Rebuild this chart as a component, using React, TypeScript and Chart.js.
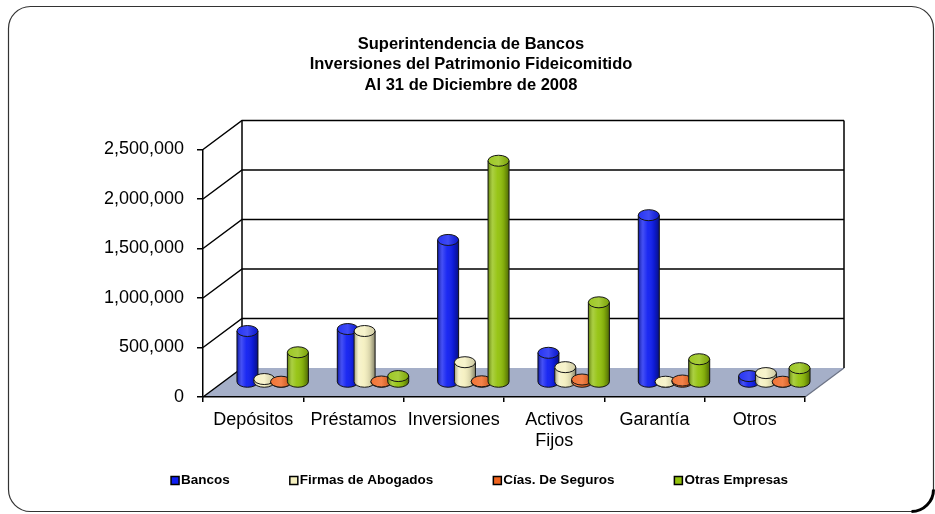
import React, { useEffect, useRef } from 'react';
import { Chart, registerables } from 'chart.js';

Chart.register(...registerables);

const FONT = '"Liberation Sans", Arial, Helvetica, sans-serif';

const titleLines = [
  'Superintendencia de Bancos',
  'Inversiones del Patrimonio Fideicomitido',
  'Al 31 de Diciembre de 2008',
];
const categories: (string | string[])[] = ['Depósitos', 'Préstamos', 'Inversiones', ['Activos', 'Fijos'], 'Garantía', 'Otros'];
const seriesNames = ['Bancos', 'Firmas de Abogados', 'Cías. De Seguros', 'Otras Empresas'];
const bancos = [520000, 540000, 1440000, 300000, 1690000, 65000];
const firmas = [35000, 520000, 205000, 155000, 8000, 95000];
const cias = [8000, 10000, 12000, 30000, 20000, 8000];
const otras = [305000, 65000, 2240000, 810000, 235000, 145000];
const seriesColors = ['#0f1ef2', '#f5f0c0', '#f0641e', '#93c20c'];
const yTickValues = [0, 500000, 1000000, 1500000, 2000000, 2500000];
const yMax = 2500000;
const yStep = 500000;

const DX = 39;
const DY = -29;
const CAP_RY = 5.5;

function roundRectPath(ctx: CanvasRenderingContext2D, x: number, y: number, w: number, h: number, r: number) {
  ctx.beginPath();
  ctx.moveTo(x + r, y);
  ctx.lineTo(x + w - r, y);
  ctx.arcTo(x + w, y, x + w, y + r, r);
  ctx.lineTo(x + w, y + h - r);
  ctx.arcTo(x + w, y + h, x + w - r, y + h, r);
  ctx.lineTo(x + r, y + h);
  ctx.arcTo(x, y + h, x, y + h - r, r);
  ctx.lineTo(x, y + r);
  ctx.arcTo(x, y, x + r, y, r);
  ctx.closePath();
}

function drawCaps(ctx: CanvasRenderingContext2D, meta: any, color: string) {
  meta.data.forEach((el: any) => {
    const p = el.getProps(['x', 'y', 'base', 'width'], true);
    const rx = p.width / 2;
    const left = p.x - rx;
    const right = p.x + rx;
    const top = Math.min(p.y, p.base);
    const bot = Math.max(p.y, p.base);
    ctx.save();
    ctx.beginPath();
    ctx.moveTo(left, top);
    ctx.lineTo(left, bot);
    ctx.ellipse(p.x, bot, rx, CAP_RY, 0, Math.PI, 0, true);
    ctx.lineTo(right, top);
    ctx.closePath();
    ctx.fillStyle = color;
    ctx.fill();
    const g = ctx.createLinearGradient(left, 0, right, 0);
    g.addColorStop(0, 'rgba(0,0,0,0.35)');
    g.addColorStop(0.22, 'rgba(255,255,255,0.22)');
    g.addColorStop(0.45, 'rgba(255,255,255,0.05)');
    g.addColorStop(0.75, 'rgba(0,0,0,0.12)');
    g.addColorStop(1, 'rgba(0,0,0,0.45)');
    ctx.fillStyle = g;
    ctx.fill();
    ctx.beginPath();
    ctx.moveTo(left, top);
    ctx.lineTo(left, bot);
    ctx.ellipse(p.x, bot, rx, CAP_RY, 0, Math.PI, 0, true);
    ctx.lineTo(right, top);
    ctx.strokeStyle = '#151515';
    ctx.lineWidth = 1;
    ctx.stroke();
    ctx.beginPath();
    ctx.ellipse(p.x, top, rx, CAP_RY, 0, 0, Math.PI * 2);
    ctx.fillStyle = color;
    ctx.fill();
    const g2 = ctx.createLinearGradient(left, 0, right, 0);
    g2.addColorStop(0, 'rgba(255,255,255,0.1)');
    g2.addColorStop(0.5, 'rgba(255,255,255,0.2)');
    g2.addColorStop(1, 'rgba(0,0,0,0.15)');
    ctx.fillStyle = g2;
    ctx.fill();
    ctx.strokeStyle = '#151515';
    ctx.stroke();
    ctx.restore();
  });
}

const frame3d = {
  id: 'frame3d',
  beforeDraw(chart: any) {
    const { ctx, chartArea: a, scales } = chart;
    const ys = scales.y;
    ctx.save();
    ctx.fillStyle = '#ffffff';
    ctx.fillRect(0, 0, chart.width, chart.height);
    roundRectPath(ctx, 8.5, 6.5, 925, 505, 22);
    ctx.strokeStyle = '#333';
    ctx.lineWidth = 1.2;
    ctx.stroke();
    ctx.beginPath();
    ctx.arc(933.5 - 22, 511.5 - 22, 22, 0, Math.PI / 2);
    ctx.lineWidth = 3;
    ctx.strokeStyle = '#000';
    ctx.stroke();
    // floor
    ctx.beginPath();
    ctx.moveTo(a.left, a.bottom);
    ctx.lineTo(a.right, a.bottom);
    ctx.lineTo(a.right + DX, a.bottom + DY);
    ctx.lineTo(a.left + DX, a.bottom + DY);
    ctx.closePath();
    ctx.fillStyle = '#a5afc8';
    ctx.fill();
    ctx.beginPath();
    ctx.moveTo(a.right, a.bottom);
    ctx.lineTo(a.right + DX, a.bottom + DY);
    ctx.strokeStyle = '#6c7385';
    ctx.lineWidth = 1.2;
    ctx.stroke();
    ctx.strokeStyle = '#000';
    ctx.lineWidth = 1.5;
    yTickValues.forEach((v) => {
      const py = ys.getPixelForValue(v);
      ctx.beginPath();
      ctx.moveTo(a.left, py);
      ctx.lineTo(a.left + DX, py + DY);
      if (v > 0) ctx.lineTo(a.right + DX, py + DY);
      ctx.stroke();
    });
    ctx.beginPath();
    ctx.moveTo(a.left + DX, a.top + DY);
    ctx.lineTo(a.left + DX, a.bottom + DY);
    ctx.moveTo(a.right + DX, a.top + DY);
    ctx.lineTo(a.right + DX, a.bottom + DY);
    ctx.stroke();
    ctx.restore();
  },
  beforeDatasetsDraw(chart: any) {
    const ctx = chart.ctx;
    ctx.save();
    ctx.translate(DX / 2, DY / 2);
    for (let i = 0; i < chart.data.datasets.length; i++) {
      const meta = chart.getDatasetMeta(i);
      if (!chart.isDatasetVisible(i)) continue;
      meta.controller.draw();
      drawCaps(ctx, meta, seriesColors[i]);
    }
    ctx.restore();
    return false;
  },
  afterDraw(chart: any) {
    const ctx = chart.ctx;
    ctx.save();
    ctx.fillStyle = '#000';
    ctx.font = `bold 16.5px ${FONT}`;
    ctx.textAlign = 'center';
    ctx.textBaseline = 'middle';
    titleLines.forEach((t, i) => ctx.fillText(t, 471, 44 + i * 20.5));
    ctx.font = `bold 13.5px ${FONT}`;
    ctx.textAlign = 'left';
    const BOX = 8;
    const GAP = 2;
    const ITEM_GAP = 60;
    const widths = seriesNames.map((n) => ctx.measureText(n).width);
    const total = widths.reduce((s, w) => s + BOX + GAP + w, 0) + ITEM_GAP * (seriesNames.length - 1);
    let x = 479.5 - total / 2;
    const cy = 480.5;
    seriesNames.forEach((n, i) => {
      ctx.fillStyle = seriesColors[i];
      ctx.fillRect(x, cy - BOX / 2, BOX, BOX);
      ctx.strokeStyle = '#000';
      ctx.lineWidth = 1.5;
      ctx.strokeRect(x, cy - BOX / 2, BOX, BOX);
      ctx.fillStyle = '#000';
      ctx.fillText(n, x + BOX + GAP, cy);
      x += BOX + GAP + widths[i] + ITEM_GAP;
    });
    ctx.restore();
  },
};

export default function App() {
  const ref = useRef<HTMLCanvasElement | null>(null);
  useEffect(() => {
    if (!ref.current) return;
    const seriesData = [bancos, firmas, cias, otras];
    const chart = new Chart(ref.current, {
      type: 'bar',
      data: {
        labels: categories,
        datasets: seriesNames.map((name, i) => ({
          label: name,
          data: seriesData[i],
          backgroundColor: seriesColors[i],
          borderColor: '#151515',
          borderWidth: 1,
          borderSkipped: 'bottom',
          categoryPercentage: 0.67,
          barPercentage: 1.25,
        })),
      },
      options: {
        animation: false,
        responsive: false,
        events: [],
        layout: { padding: { left: 73, right: 130, top: 149.5, bottom: 57 } },
        plugins: {
          title: { display: false },
          legend: { display: false },
          tooltip: { enabled: false },
        },
        scales: {
          x: {
            offset: true,
            grid: { display: true, drawOnChartArea: false, drawTicks: true, tickLength: 5, color: '#000', lineWidth: 1.5, offset: true },
            border: { display: true, color: '#000', width: 1.5 },
            ticks: { color: '#000', font: { family: FONT, size: 18 }, padding: 7, maxRotation: 0, autoSkip: false },
            afterFit: (s: any) => { s.height = 60; },
          },
          y: {
            min: 0,
            max: yMax,
            grid: { drawOnChartArea: false, drawTicks: true, tickLength: 6, color: '#000', lineWidth: 1.5 },
            border: { display: true, color: '#000', width: 1.5 },
            ticks: {
              stepSize: yStep,
              color: '#000',
              font: { family: FONT, size: 18 },
              padding: 13,
              callback: (v: any) => Number(v).toLocaleString('en-US'),
            },
            afterFit: (s: any) => { s.width = 130; },
          },
        },
      },
      plugins: [frame3d],
    });
    return () => chart.destroy();
  }, []);
  return (
    <div style={{ position: 'fixed', left: 0, top: 0, width: 935, height: 514 }}>
      <canvas ref={ref} width={935} height={514} style={{ display: 'block' }} />
    </div>
  );
}
